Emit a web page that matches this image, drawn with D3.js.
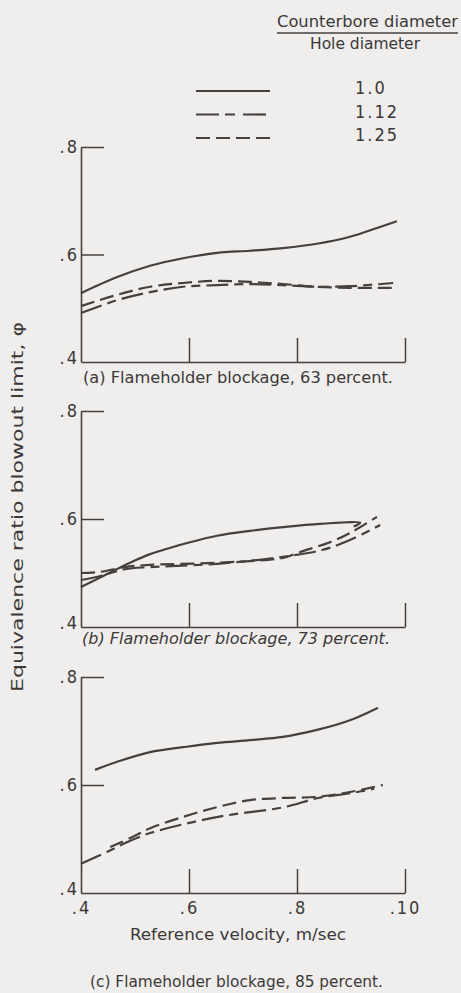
<!DOCTYPE html>
<html>
<head>
<meta charset="utf-8">
<script src="https://cdn.jsdelivr.net/npm/d3@7"></script>
<style>
  html, body { margin: 0; padding: 0; background: #efeeec; }
  svg { display: block; }
  text { font-family: "DejaVu Sans Condensed", "DejaVu Sans", sans-serif; fill: #3b3837; }
</style>
</head>
<body>
<svg id="chart" width="461" height="993"></svg>
<script>
// Counterbore-to-hole diameter ratios (legend entries)
const ratios = ["1.0", "1.12", "1.25"];

// Axis tick values and their printed labels
const xTicks = [0.4, 0.6, 0.8, 1.0];
const xTickLabels = [".4", ".6", ".8", ".10"];
const yTicks = [0.4, 0.6, 0.8];
const yTickLabels = [".4", ".6", ".8"];

// (a) Flameholder blockage, 63 percent: [reference velocity, equivalence ratio]
const a_10  = [[0.40,0.528],[0.467,0.558],[0.528,0.579],[0.589,0.593],[0.652,0.603],[0.713,0.607],[0.774,0.612],[0.837,0.620],[0.898,0.633],[0.941,0.647],[0.985,0.662]];
const a_112 = [[0.40,0.491],[0.467,0.515],[0.528,0.530],[0.589,0.540],[0.652,0.543],[0.713,0.545],[0.774,0.543],[0.837,0.540],[0.898,0.541],[0.978,0.547]];
const a_125 = [[0.40,0.504],[0.467,0.525],[0.528,0.540],[0.589,0.547],[0.652,0.551],[0.713,0.549],[0.774,0.545],[0.837,0.540],[0.898,0.538],[0.978,0.538]];

// (b) Flameholder blockage, 73 percent
const b_10  = [[0.40,0.474],[0.444,0.496],[0.491,0.519],[0.528,0.535],[0.602,0.557],[0.652,0.569],[0.713,0.578],[0.774,0.585],[0.843,0.591],[0.917,0.593],[0.905,0.586]];
const b_112 = [[0.40,0.487],[0.435,0.494],[0.481,0.507],[0.528,0.511],[0.652,0.517],[0.774,0.530],[0.848,0.543],[0.898,0.561],[0.954,0.589]];
const b_125 = [[0.40,0.500],[0.435,0.502],[0.481,0.511],[0.528,0.515],[0.652,0.519],[0.774,0.528],[0.806,0.539],[0.861,0.557],[0.898,0.574],[0.948,0.604]];

// (c) Flameholder blockage, 85 percent
const c_10  = [[0.426,0.628],[0.467,0.643],[0.528,0.661],[0.589,0.670],[0.652,0.678],[0.713,0.683],[0.774,0.689],[0.837,0.702],[0.898,0.720],[0.950,0.743]];
const c_112 = [[0.40,0.454],[0.45,0.477],[0.485,0.494],[0.528,0.511],[0.654,0.541],[0.776,0.559],[0.839,0.576],[0.900,0.585],[0.943,0.593]];
const c_125 = [[0.454,0.485],[0.496,0.504],[0.528,0.520],[0.589,0.541],[0.652,0.559],[0.713,0.572],[0.774,0.576],[0.837,0.578],[0.898,0.587],[0.959,0.600]];

const captions = [
  "(a) Flameholder blockage, 63 percent.",
  "(b) Flameholder blockage, 73 percent.",
  "(c) Flameholder blockage, 85 percent."
];

// ---- drawing ----
const ink = "#45403e";
const dashes = { "1.0": null, "1.12": "22,6,9,6", "1.25": "14,6" };
const numFont = 18;

const svg = d3.select("#chart");
svg.append("rect").attr("width", 461).attr("height", 993).attr("fill", "#efeeec");

const x = d3.scaleLinear().domain([0.4, 1.0]).range([81, 405]);

const panels = [
  { top: 147, bottom: 362, series: [a_10, a_112, a_125], capY: 383, capX: 83, capW: 310, italic: false },
  { top: 411, bottom: 627, series: [b_10, b_112, b_125], capY: 644, capX: 82, capW: 308, italic: true },
  { top: 677, bottom: 893, series: [c_10, c_112, c_125], capY: 987, capX: 90, capW: 293, italic: false }
];

panels.forEach((p, i) => {
  const y = d3.scaleLinear().domain([0.4, 0.8]).range([p.bottom, p.top]);
  const g = svg.append("g");

  // y axis: ticks point inward (right), labels on the left
  const yAxis = d3.axisLeft(y)
    .tickValues(yTicks)
    .tickSize(-23)
    .tickSizeOuter(0)
    .tickPadding(2)
    .tickFormat((d, k) => yTickLabels[k]);
  const ya = g.append("g").attr("transform", `translate(${x(0.4)},0)`).call(yAxis);

  // x axis: ticks point upward
  const xAxis = d3.axisBottom(x)
    .tickValues(xTicks)
    .tickSize(-24)
    .tickSizeOuter(0)
    .tickPadding(8)
    .tickFormat((d, k) => (i === 2 ? xTickLabels[k] : ""));
  const xa = g.append("g").attr("transform", `translate(0,${y(0.4)})`).call(xAxis);

  [ya, xa].forEach(a => {
    a.select(".domain").attr("stroke", ink).attr("stroke-width", 1.6);
    a.selectAll(".tick line").attr("stroke", ink).attr("stroke-width", 1.5);
    a.selectAll(".tick text").attr("font-size", numFont).attr("fill", "#3b3837")
      .attr("letter-spacing", 2)
      .style("font-family", '"DejaVu Sans Condensed","DejaVu Sans",sans-serif');
  });
  // corner ticks coincide with the axes themselves
  xa.selectAll(".tick").filter(d => d === 0.4).select("line").remove();
  ya.selectAll(".tick").filter(d => d === 0.4).select("line").remove();
  ya.selectAll(".tick").filter(d => d === 0.4).select("text").attr("dy", "0.1em");

  const line = d3.line()
    .x(d => x(d[0]))
    .y(d => y(d[1]))
    .curve(d3.curveCatmullRom.alpha(0.5));

  p.series.forEach((s, k) => {
    g.append("path")
      .datum(s)
      .attr("d", line)
      .attr("fill", "none")
      .attr("stroke", ink)
      .attr("stroke-width", 2.2)
      .attr("stroke-linecap", "butt")
      .attr("stroke-dasharray", dashes[ratios[k]]);
  });

  g.append("text")
    .attr("x", p.capX)
    .attr("y", p.capY)
    .attr("font-size", 16)
    .attr("textLength", p.capW)
    .attr("lengthAdjust", "spacingAndGlyphs")
    .attr("font-style", p.italic ? "italic" : "normal")
    .text(captions[i]);
});

// x axis title
svg.append("text")
  .attr("x", 238).attr("y", 940)
  .attr("text-anchor", "middle")
  .attr("font-size", 16.5)
  .attr("textLength", 216)
  .attr("lengthAdjust", "spacingAndGlyphs")
  .text("Reference velocity, m/sec");

// y axis title
svg.append("text")
  .attr("transform", "translate(23,507) rotate(-90)")
  .attr("text-anchor", "middle")
  .attr("font-size", 16.5)
  .attr("textLength", 370)
  .attr("lengthAdjust", "spacingAndGlyphs")
  .text("Equivalence ratio blowout limit, \u03C6");

// legend
const legend = svg.append("g");
legend.append("text")
  .attr("x", 277).attr("y", 27)
  .attr("font-size", 16.5)
  .attr("textLength", 181)
  .attr("lengthAdjust", "spacingAndGlyphs")
  .text("Counterbore diameter");
legend.append("line")
  .attr("x1", 277).attr("x2", 458).attr("y1", 33).attr("y2", 33)
  .attr("stroke", ink).attr("stroke-width", 1.4);
legend.append("text")
  .attr("x", 365).attr("y", 49)
  .attr("text-anchor", "middle")
  .attr("font-size", 16.5)
  .attr("textLength", 110)
  .attr("lengthAdjust", "spacingAndGlyphs")
  .text("Hole diameter");

ratios.forEach((r, k) => {
  const ly = 91 + k * 23.5;
  legend.append("line")
    .attr("x1", 196).attr("x2", 270).attr("y1", ly).attr("y2", ly)
    .attr("stroke", ink).attr("stroke-width", 2.2)
    .attr("stroke-dasharray", k === 1 ? "23,6,10,8" : dashes[r]);
  legend.append("text")
    .attr("x", 355).attr("y", ly + 3)
    .attr("font-size", numFont)
    .attr("letter-spacing", 2)
    .text(r);
});
</script>
</body>
</html>
